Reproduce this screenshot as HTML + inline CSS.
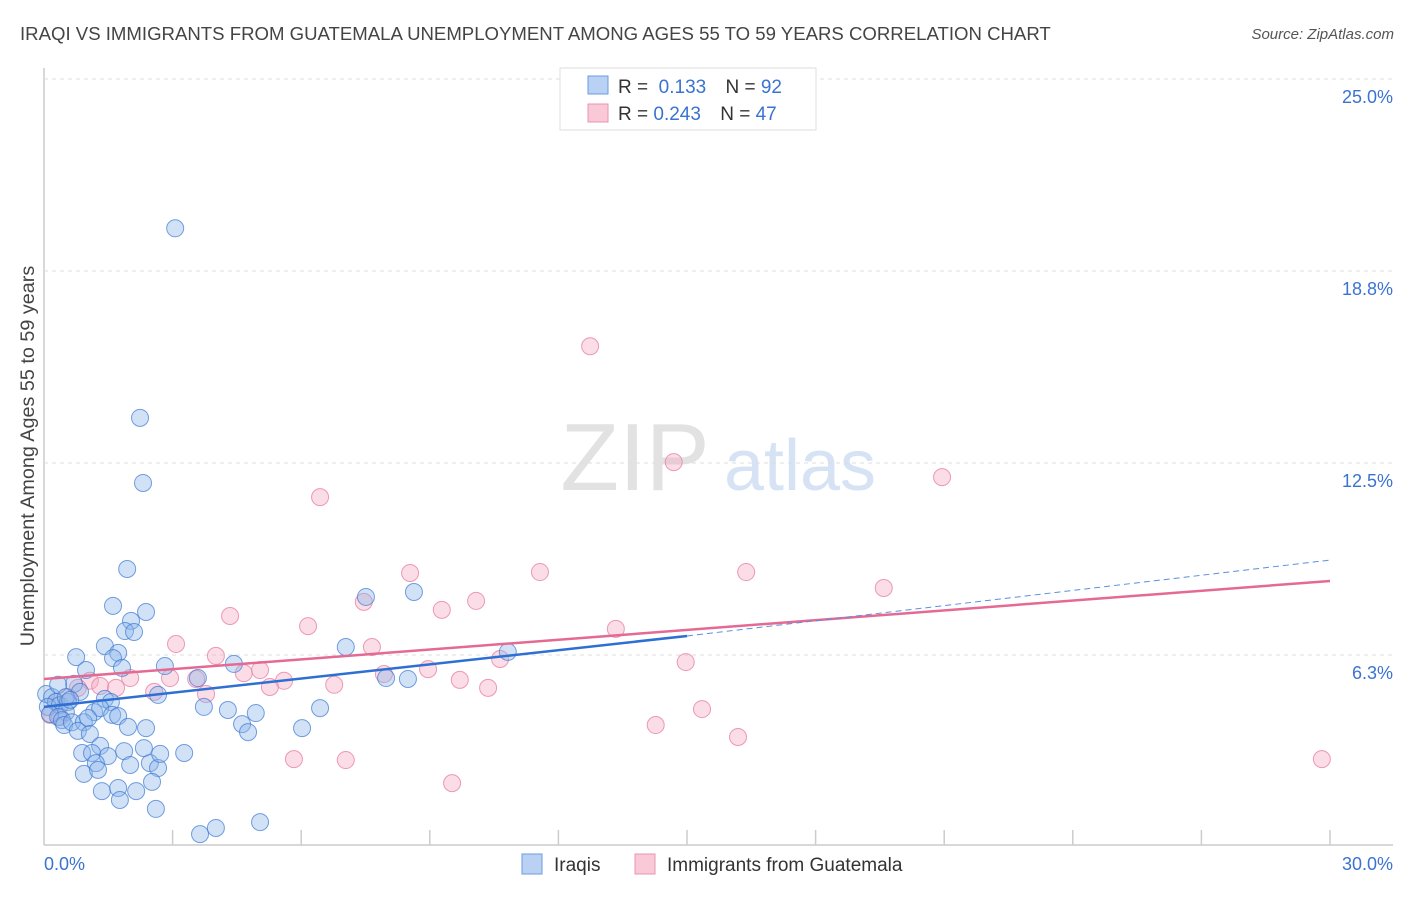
<!DOCTYPE html>
<html><head><meta charset="utf-8"><style>
body{margin:0;background:#fff;font-family:"Liberation Sans",sans-serif;}
svg text{font-family:"Liberation Sans",sans-serif;}
</style></head><body>
<svg id="c" width="1406" height="892" xmlns="http://www.w3.org/2000/svg">
<text x="20" y="40" font-size="18.6" fill="#444">IRAQI VS IMMIGRANTS FROM GUATEMALA UNEMPLOYMENT AMONG AGES 55 TO 59 YEARS CORRELATION CHART</text>
<text x="1394" y="39" font-size="15" fill="#555" font-style="italic" text-anchor="end">Source: ZipAtlas.com</text>
<text x="635" y="490" font-size="96" fill="#e2e2e2" font-family="Liberation Serif" text-anchor="middle">ZIP</text>
<text x="800" y="490" font-size="72" fill="#d6e3f5" text-anchor="middle">atlas</text>
<text transform="translate(34,456) rotate(-90)" font-size="19.8" fill="#444" text-anchor="middle">Unemployment Among Ages 55 to 59 years</text>
<g id="grid"></g><g id="pts"></g><g id="lines"></g>
<g>
<rect x="560" y="68" width="256" height="62" fill="#fff" stroke="#ddd"/>
<rect x="588" y="76" width="20" height="18" fill="#b9d2f3" stroke="#6a9be0"/>
<rect x="588" y="104" width="20" height="18" fill="#f9c9d8" stroke="#ec93b0"/>
<text x="618" y="93" font-size="19" fill="#333">R = <tspan fill="#3a73d1">&#160;0.133</tspan>   <tspan dx="14">N = </tspan><tspan fill="#3a73d1">92</tspan></text>
<text x="618" y="120" font-size="19" fill="#333">R = <tspan fill="#3a73d1">0.243</tspan>   <tspan dx="14">N = </tspan><tspan fill="#3a73d1">47</tspan></text>
</g>
<g>
<rect x="522" y="854" width="20" height="20" fill="#b9d2f3" stroke="#6a9be0"/>
<text x="554" y="871" font-size="19" fill="#333">Iraqis</text>
<rect x="635" y="854" width="20" height="20" fill="#f9c9d8" stroke="#ec93b0"/>
<text x="667" y="871" font-size="19" fill="#333">Immigrants from Guatemala</text>
</g>
</svg>
<script>
const xTicks=["0.0%","30.0%"];
const yTickVals=[6.25,12.5,18.75,25];
const yTickLabels=["6.3%","12.5%","18.8%","25.0%"];
const iraqiX=[3.06,2.24,2.31,1.94,1.61,2.38,2.03,1.89,2.1,1.42,0.75,1.73,1.61,1.82,0.98,2.82,4.43,3.59,0.7,0.84,1.42,1.56,2.66,0.05,0.19,0.28,0.09,0.37,0.56,0.51,0.14,0.33,0.42,1.17,1.31,1.59,1.73,3.73,4.29,4.94,6.44,0.47,0.65,0.93,1.03,0.79,1.07,1.96,2.38,4.62,4.76,6.02,1.31,1.87,2.33,3.27,0.89,1.12,1.49,1.21,2.01,2.47,2.66,2.71,0.93,1.26,2.52,1.35,1.73,2.15,1.77,2.61,3.64,4.01,5.04,7.04,7.51,8.63,7.98,8.49,10.82,0.33,0.51,0.61];
const iraqiY=[20.14,13.97,11.85,9.05,7.85,7.65,7.36,7.03,7.0,6.54,6.18,6.32,6.15,5.83,5.76,5.89,5.96,5.5,5.31,5.05,4.82,4.72,4.95,4.98,4.88,4.72,4.56,4.62,4.72,4.39,4.33,4.23,4.13,4.39,4.52,4.3,4.26,4.56,4.46,4.36,4.52,3.97,4.06,4.06,4.2,3.78,3.68,3.91,3.87,4.0,3.74,3.87,3.29,3.12,3.22,3.06,3.06,3.06,2.96,2.73,2.67,2.73,2.57,3.03,2.38,2.51,2.12,1.82,1.92,1.82,1.53,1.24,0.42,0.62,0.81,6.51,8.14,8.3,5.5,5.47,6.35,5.28,4.88,4.79];
const guatX=[12.74,14.69,20.95,6.44,8.54,11.57,16.38,19.59,7.46,10.08,9.28,4.34,6.16,13.34,3.08,7.65,4.01,10.64,14.97,5.04,4.66,7.93,8.96,2.94,3.55,1.07,5.6,9.7,1.31,1.68,2.01,2.57,5.27,6.77,10.36,3.78,0.79,0.56,0.28,0.14,0.37,14.27,15.35,16.19,5.83,7.04,9.52,29.81];
const guatY=[16.3,12.53,12.04,11.39,8.92,8.95,8.95,8.43,7.98,8.01,7.72,7.52,7.19,7.1,6.61,6.51,6.22,6.12,6.02,5.76,5.66,5.63,5.79,5.5,5.47,5.41,5.41,5.44,5.24,5.18,5.5,5.05,5.21,5.28,5.18,4.98,5.18,4.88,4.72,4.3,4.23,3.97,4.49,3.58,2.86,2.83,2.08,2.86];
const iraqiFit=[[0,4.56],[15,6.87],[30,9.34]];
const guatFit=[[0,5.47],[30,8.66]];
const NS="http://www.w3.org/2000/svg";
const X0=44,X1=1330,Y0=847,YS=30.72;
const sx=v=>X0+(X1-X0)*v/30, sy=v=>Y0-v*YS;
function mk(t,a,p){const e=document.createElementNS(NS,t);for(const k in a)e.setAttribute(k,a[k]);p.appendChild(e);return e;}
const grid=document.getElementById('grid');
mk('line',{x1:X0,y1:845,x2:1393,y2:845,stroke:'#ccc','stroke-width':1.5},grid);
mk('line',{x1:X0,y1:68,x2:X0,y2:845,stroke:'#ccc','stroke-width':1.5},grid);
yTickVals.forEach((v,i)=>{
 const l=mk('line',{x1:X0,y1:sy(v),x2:1393,y2:sy(v),stroke:'#ddd','stroke-dasharray':'4,4'},grid);
 
 
 const t=mk('text',{x:1393,y:sy(v)+24,'font-size':18,fill:'#3a73d1','text-anchor':'end'},grid);
 t.textContent=yTickLabels[i];
 
 
});
for(let i=1;i<=10;i++){const x=sx(i*3);mk('line',{x1:x,y1:830,x2:x,y2:845,stroke:'#ccc','stroke-width':1.5},grid);}
xTicks.forEach((s,i)=>{
 const t=mk('text',{x:i?1393:44,y:870,'font-size':18,fill:'#3a73d1','text-anchor':i?'end':'start'},grid);
 t.textContent=s;
 
 
});
const pts=document.getElementById('pts');
guatX.forEach((v,i)=>{
 const c=mk('circle',{cx:sx(v),cy:sy(guatY[i]),r:8.5,fill:'rgba(246,170,196,0.4)',stroke:'rgba(232,130,165,0.8)','stroke-width':1},pts);
 
 
});
iraqiX.forEach((v,i)=>{
 const c=mk('circle',{cx:sx(v),cy:sy(iraqiY[i]),r:8.5,fill:'rgba(140,182,236,0.4)',stroke:'rgba(60,120,210,0.7)','stroke-width':1},pts);
 
 
});
const ln=document.getElementById('lines');
let a=mk('line',{x1:sx(guatFit[0][0]),y1:sy(guatFit[0][1]),x2:sx(guatFit[1][0]),y2:sy(guatFit[1][1]),stroke:'#e46a94','stroke-width':2.5},ln);


a=mk('line',{x1:sx(iraqiFit[0][0]),y1:sy(iraqiFit[0][1]),x2:sx(iraqiFit[1][0]),y2:sy(iraqiFit[1][1]),stroke:'#2e6fd3','stroke-width':2.5},ln);


a=mk('line',{x1:sx(iraqiFit[1][0]),y1:sy(iraqiFit[1][1]),x2:sx(iraqiFit[2][0]),y2:sy(iraqiFit[2][1]),stroke:'#5a8fde','stroke-width':1,'stroke-dasharray':'6,4'},ln);


</script>
</body></html>
